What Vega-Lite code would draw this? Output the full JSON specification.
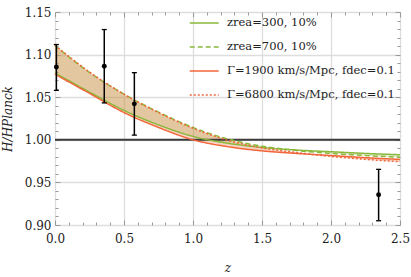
{
  "$schema": "https://vega.github.io/schema/vega-lite/v6.json",
  "width": 345,
  "height": 213,
  "autosize": "none",
  "padding": {"left": 55, "top": 12, "right": 11, "bottom": 52},
  "config": {
    "view": {"stroke": "#a8a8a8", "strokeWidth": 1},
    "font": "DejaVu Serif",
    "axis": {
      "domain": false,
      "labelFont": "DejaVu Serif",
      "labelFontSize": 12,
      "labelColor": "#222222",
      "titleFont": "DejaVu Serif",
      "titleFontStyle": "italic",
      "titleFontWeight": "normal",
      "titleFontSize": 12,
      "titleColor": "#222222",
      "tickColor": "#9a9a9a",
      "tickWidth": 1,
      "gridColor": "#dddddd",
      "gridWidth": 1.3
    }
  },
  "datasets": {
    "curves": [
      {"z": 0.0, "g1": 1.0785, "g2": 1.1105, "r1": 1.077, "r2": 1.111},
      {"z": 0.25, "g1": 1.056, "g2": 1.079, "r1": 1.0545, "r2": 1.0795},
      {"z": 0.5, "g1": 1.0345, "g2": 1.0535, "r1": 1.032, "r2": 1.0535},
      {"z": 0.75, "g1": 1.0175, "g2": 1.0325, "r1": 1.0145, "r2": 1.032},
      {"z": 1.0, "g1": 1.004, "g2": 1.0145, "r1": 1.0, "r2": 1.0135},
      {"z": 1.25, "g1": 0.996, "g2": 1.001, "r1": 0.992, "r2": 0.9995},
      {"z": 1.5, "g1": 0.991, "g2": 0.9925, "r1": 0.987, "r2": 0.9905},
      {"z": 1.75, "g1": 0.988, "g2": 0.9875, "r1": 0.984, "r2": 0.985},
      {"z": 2.0, "g1": 0.986, "g2": 0.984, "r1": 0.9815, "r2": 0.9805},
      {"z": 2.25, "g1": 0.984, "g2": 0.9815, "r1": 0.979, "r2": 0.977},
      {"z": 2.5, "g1": 0.9825, "g2": 0.9795, "r1": 0.977, "r2": 0.9742}
    ],
    "obs": [
      {"z": 0.01, "v": 1.0855, "lo": 1.058, "hi": 1.1118},
      {"z": 0.357, "v": 1.0864, "lo": 1.0433, "hi": 1.1294},
      {"z": 0.575, "v": 1.0422, "lo": 1.0055, "hi": 1.0788},
      {"z": 2.345, "v": 0.9355, "lo": 0.905, "hi": 0.9653}
    ],
    "ref": [{"h": 1.0}]
  },
  "resolve": {"axis": {"x": "independent", "y": "independent"}},
  "layer": [
    {
      "data": {"name": "curves"},
      "mark": {"type": "area", "color": "#9cc45a", "opacity": 0.3, "interpolate": "monotone"},
      "encoding": {
        "x": {"field": "z", "type": "quantitative", "scale": {"domain": [0, 2.5], "nice": false, "zero": false},
          "axis": {"orient": "bottom", "values": [0, 0.5, 1, 1.5, 2, 2.5], "format": ".1f", "ticks": false, "grid": true, "labelPadding": 8, "labelFlush": false, "title": "z", "titleY": 46, "titleBaseline": "alphabetic"}},
        "y": {"field": "g1", "type": "quantitative", "scale": {"domain": [0.9, 1.15], "nice": false, "zero": false},
          "axis": {"orient": "left", "values": [0.9, 0.95, 1.0, 1.05, 1.1, 1.15], "format": ".2f", "ticks": false, "grid": true, "labelPadding": 4, "labelFlush": false, "title": "H/HPlanck", "titlePadding": 10}},
        "y2": {"field": "g2"}
      }
    },
    {
      "data": {"name": "curves"},
      "mark": {"type": "area", "color": "#e8703c", "opacity": 0.3, "interpolate": "monotone"},
      "encoding": {
        "x": {"field": "z", "type": "quantitative", "scale": {"domain": [0, 2.5], "nice": false, "zero": false},
          "axis": {"orient": "bottom", "values": [0, 0.5, 1, 1.5, 2, 2.5], "labels": false, "grid": false, "ticks": true, "tickSize": -5, "title": null}},
        "y": {"field": "r1", "type": "quantitative", "scale": {"domain": [0.9, 1.15], "nice": false, "zero": false},
          "axis": {"orient": "left", "values": [0.9, 0.95, 1.0, 1.05, 1.1, 1.15], "labels": false, "grid": false, "ticks": true, "tickSize": -5, "title": null}},
        "y2": {"field": "r2"}
      }
    },
    {
      "data": {"name": "ref"},
      "mark": {"type": "rule", "color": "#3a3a3a", "strokeWidth": 2},
      "encoding": {
        "y": {"field": "h", "type": "quantitative", "scale": {"domain": [0.9, 1.15], "nice": false, "zero": false}, "axis": null}
      }
    },
    {
      "data": {"name": "curves"},
      "transform": [{"fold": ["g1", "g2", "r1", "r2"], "as": ["series", "val"]}],
      "mark": {"type": "line", "strokeWidth": 1.5, "interpolate": "monotone"},
      "encoding": {
        "x": {"field": "z", "type": "quantitative", "scale": {"domain": [0, 2.5], "nice": false, "zero": false},
          "axis": {"orient": "bottom", "values": [0.1, 0.2, 0.3, 0.4, 0.6, 0.7, 0.8, 0.9, 1.1, 1.2, 1.3, 1.4, 1.6, 1.7, 1.8, 1.9, 2.1, 2.2, 2.3, 2.4], "labels": false, "grid": false, "ticks": true, "tickSize": -3, "title": null}},
        "y": {"field": "val", "type": "quantitative", "scale": {"domain": [0.9, 1.15], "nice": false, "zero": false},
          "axis": {"orient": "left", "values": [0.91, 0.92, 0.93, 0.94, 0.96, 0.97, 0.98, 0.99, 1.01, 1.02, 1.03, 1.04, 1.06, 1.07, 1.08, 1.09, 1.11, 1.12, 1.13, 1.14], "labels": false, "grid": false, "ticks": true, "tickSize": -3, "title": null}},
        "color": {"field": "series", "type": "nominal",
          "scale": {"domain": ["g1", "g2", "r1", "r2"], "range": ["#8bb83c", "#8bb83c", "#f2663a", "#f2663a"]},
          "legend": {"title": null, "orient": "none", "legendX": 134, "legendY": 3, "padding": 0, "symbolType": "M-1,0H3", "symbolSize": 210, "symbolStrokeWidth": 1.5, "labelFont": "DejaVu Serif", "labelFontSize": 11.5, "labelColor": "#222222", "labelOffset": 22, "rowPadding": 10, "labelLimit": 300,
            "labelExpr": "datum.value == 'g1' ? 'zrea=300, 10%' : datum.value == 'g2' ? 'zrea=700, 10%' : datum.value == 'r1' ? 'Γ=1900 km/s/Mpc, fdec=0.1' : 'Γ=6800 km/s/Mpc, fdec=0.1'"}},
        "strokeDash": {"field": "series", "type": "nominal",
          "scale": {"domain": ["g1", "g2", "r1", "r2"], "range": [[1, 0], [5, 3], [1, 0], [2, 2]]},
          "legend": {"title": null, "orient": "none", "legendX": 134, "legendY": 3, "padding": 0, "symbolType": "M-1,0H3", "symbolSize": 210, "symbolStrokeWidth": 1.5, "labelFont": "DejaVu Serif", "labelFontSize": 11.5, "labelColor": "#222222", "labelOffset": 22, "rowPadding": 10, "labelLimit": 300,
            "labelExpr": "datum.value == 'g1' ? 'zrea=300, 10%' : datum.value == 'g2' ? 'zrea=700, 10%' : datum.value == 'r1' ? 'Γ=1900 km/s/Mpc, fdec=0.1' : 'Γ=6800 km/s/Mpc, fdec=0.1'"}}
      }
    },
    {
      "data": {"name": "obs"},
      "mark": {"type": "rule", "color": "black", "strokeWidth": 1.5},
      "encoding": {
        "x": {"field": "z", "type": "quantitative", "scale": {"domain": [0, 2.5], "nice": false, "zero": false},
          "axis": {"orient": "top", "values": [0, 0.5, 1, 1.5, 2, 2.5], "labels": false, "grid": false, "ticks": true, "tickSize": -5, "title": null}},
        "y": {"field": "lo", "type": "quantitative", "scale": {"domain": [0.9, 1.15], "nice": false, "zero": false},
          "axis": {"orient": "right", "values": [0.9, 0.95, 1.0, 1.05, 1.1, 1.15], "labels": false, "grid": false, "ticks": true, "tickSize": -5, "title": null}},
        "y2": {"field": "hi"}
      }
    },
    {
      "data": {"name": "obs"},
      "transform": [{"fold": ["lo", "hi"], "as": ["k", "cap"]}],
      "mark": {"type": "tick", "orient": "horizontal", "size": 5, "thickness": 1.3, "color": "black", "opacity": 1},
      "encoding": {
        "x": {"field": "z", "type": "quantitative", "scale": {"domain": [0, 2.5], "nice": false, "zero": false},
          "axis": {"orient": "top", "values": [0.1, 0.2, 0.3, 0.4, 0.6, 0.7, 0.8, 0.9, 1.1, 1.2, 1.3, 1.4, 1.6, 1.7, 1.8, 1.9, 2.1, 2.2, 2.3, 2.4], "labels": false, "grid": false, "ticks": true, "tickSize": -3, "title": null}},
        "y": {"field": "cap", "type": "quantitative", "scale": {"domain": [0.9, 1.15], "nice": false, "zero": false},
          "axis": {"orient": "right", "values": [0.91, 0.92, 0.93, 0.94, 0.96, 0.97, 0.98, 0.99, 1.01, 1.02, 1.03, 1.04, 1.06, 1.07, 1.08, 1.09, 1.11, 1.12, 1.13, 1.14], "labels": false, "grid": false, "ticks": true, "tickSize": -3, "title": null}}
      }
    },
    {
      "data": {"name": "obs"},
      "mark": {"type": "point", "filled": true, "size": 24, "color": "black", "opacity": 1},
      "encoding": {
        "x": {"field": "z", "type": "quantitative", "scale": {"domain": [0, 2.5], "nice": false, "zero": false}, "axis": null},
        "y": {"field": "v", "type": "quantitative", "scale": {"domain": [0.9, 1.15], "nice": false, "zero": false}, "axis": null}
      }
    }
  ]
}
